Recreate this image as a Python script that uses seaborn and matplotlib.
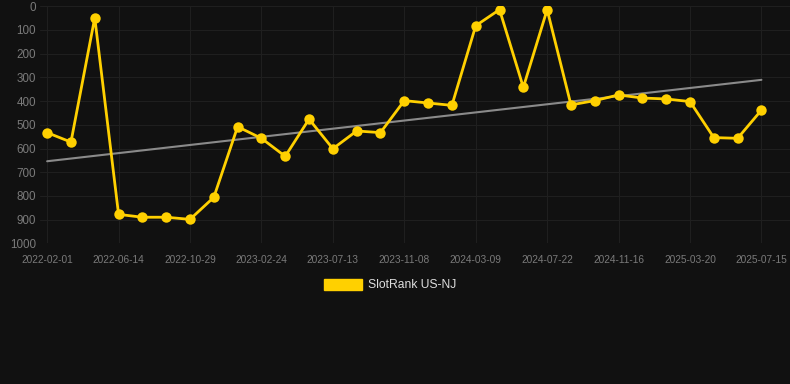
import numpy as np
import pandas as pd
import matplotlib
matplotlib.use("Agg")
import matplotlib.pyplot as plt
import seaborn as sns
from matplotlib.patches import Patch

# ---- data ----
ranks = [533, 573, 48, 878, 890, 890, 899, 806, 508, 557, 633, 476, 601, 526, 533,
         398, 408, 418, 82, 14, 342, 14, 416, 398, 374, 387, 391, 402, 554, 557, 438]
tick_labels = ["2022-02-01", "2022-06-14", "2022-10-29", "2023-02-24", "2023-07-13",
               "2023-11-08", "2024-03-09", "2024-07-22", "2024-11-16", "2025-03-20",
               "2025-07-15"]
series_name = "SlotRank US-NJ"
y_ticks = [0, 100, 200, 300, 400, 500, 600, 700, 800, 900, 1000]

df = pd.DataFrame({"idx": np.arange(len(ranks)), "rank": ranks})

sns.set_theme(style="dark")
plt.rcParams["font.family"] = ["Liberation Sans", "DejaVu Sans"]

BG = "#111111"
YELLOW = "#FFD000"
GRID = "#1f1f1f"
TICK = "#7a7a7a"

fig = plt.figure(figsize=(7.9, 3.84), dpi=100, facecolor=BG)
ax = fig.add_axes([40 / 790, 1 - 243.3 / 384, 750 / 790, (243.3 - 6.3) / 384])
ax.set_facecolor(BG)

# trend line (least squares)
coef = np.polyfit(df["idx"], df["rank"], 1)
trend = pd.DataFrame({"idx": df["idx"], "trend": np.polyval(coef, df["idx"])})
sns.lineplot(data=trend, x="idx", y="trend", ax=ax, color="#8a8a8a", linewidth=1.5,
             legend=False, zorder=2)

sns.lineplot(data=df, x="idx", y="rank", ax=ax, color=YELLOW, linewidth=2.0,
             marker="o", markersize=7.5, markeredgewidth=0, legend=False, zorder=3)

ax.set_ylim(1000, 0)
ax.set_xlim(-0.3, 31.2)
ax.set_yticks(y_ticks)
ax.set_yticklabels([str(v) for v in y_ticks])
ax.set_xticks(np.arange(0, len(ranks), 3))
ax.set_xticklabels(tick_labels)
ax.set_xlabel("")
ax.set_ylabel("")
ax.tick_params(axis="y", length=0, pad=3, labelsize=8.4, labelcolor=TICK)
ax.tick_params(axis="x", length=0, pad=8.5, labelsize=7.3, labelcolor=TICK)
ax.grid(True, color=GRID, linewidth=0.8)
for s in ax.spines.values():
    s.set_visible(False)

handle = Patch(facecolor=YELLOW, edgecolor=YELLOW)
fig.legend([handle], [series_name], loc="center", bbox_to_anchor=(390 / 790, 1 - 285 / 384),
           frameon=False, handlelength=3.2, handleheight=1.0, handletextpad=0.5,
           fontsize=8.7, labelcolor="#dddddd")

fig.savefig("out.png", dpi=100, facecolor=BG)
